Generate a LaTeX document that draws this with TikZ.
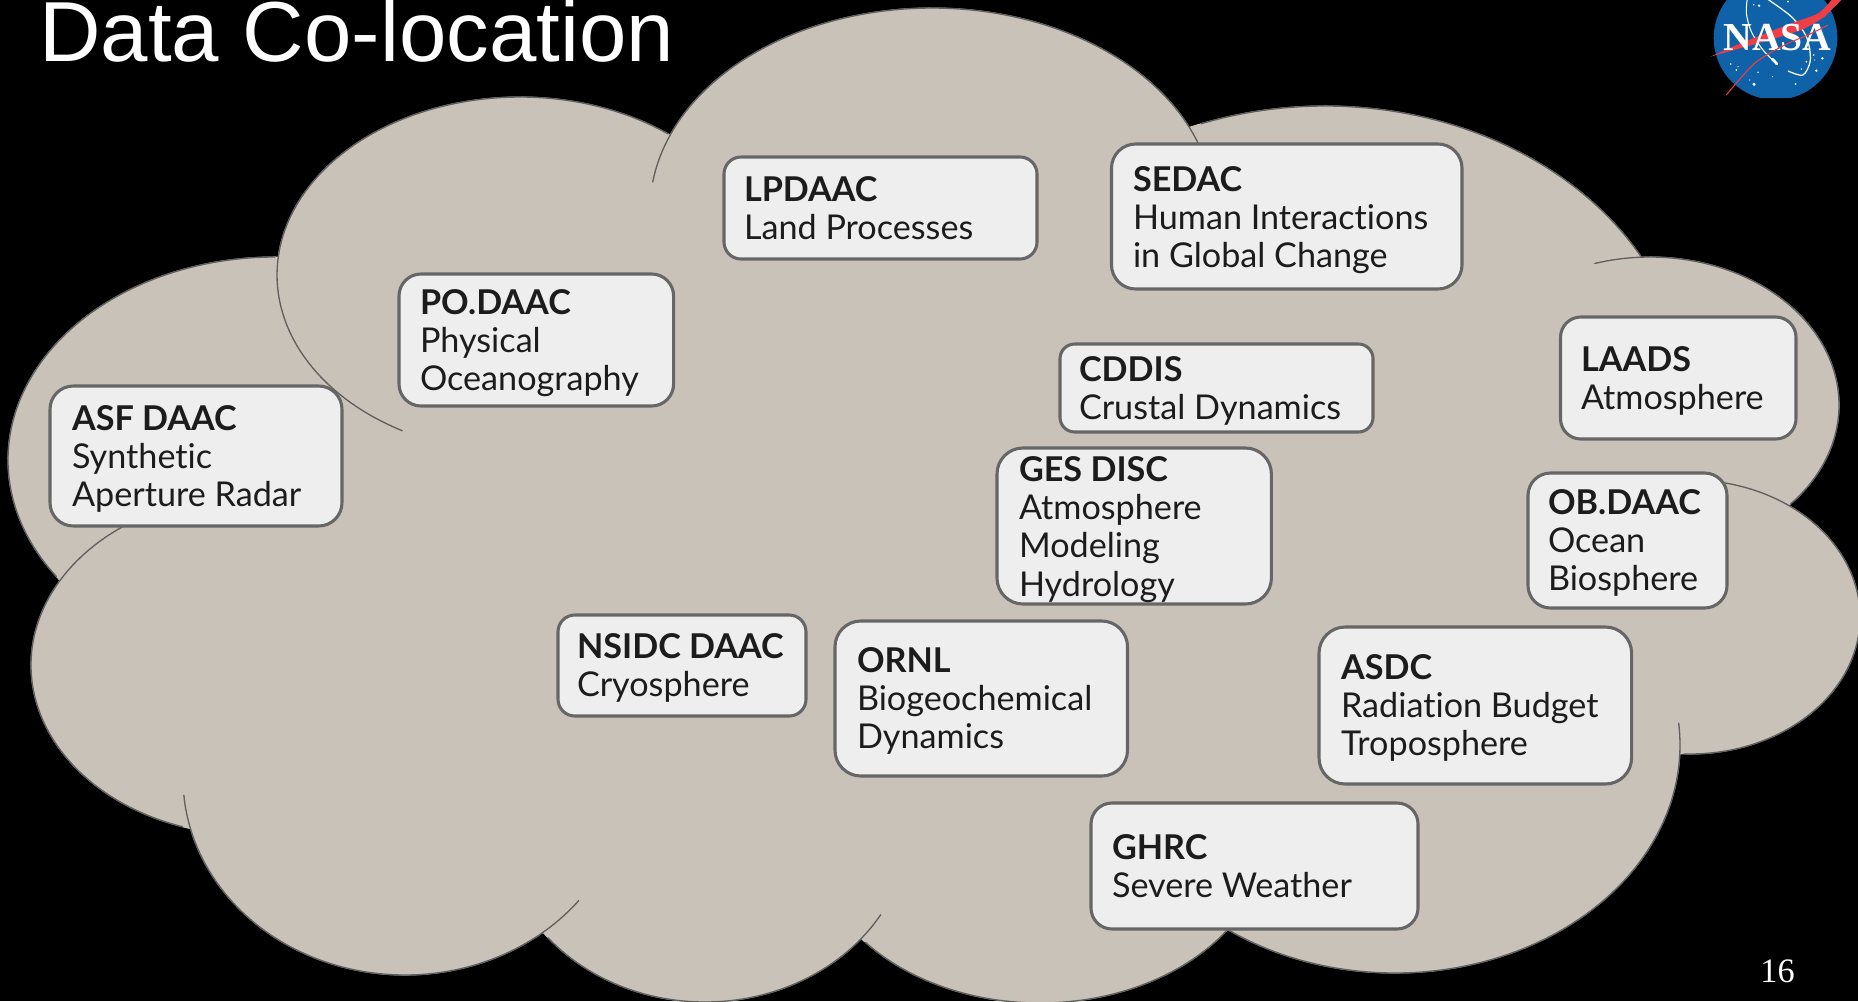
\documentclass[tikz,border=0pt]{standalone}
\usepackage{fontspec}
\setmainfont{Lato}[Ligatures=NoCommon]
\newfontfamily\titlefont{Liberation Sans}
\newfontfamily\timesfont{Liberation Serif}
\definecolor{cloudfill}{HTML}{C9C2B8}
\definecolor{cloudline}{HTML}{5F5F5F}
\definecolor{boxfill}{HTML}{EEEEEE}
\definecolor{boxline}{HTML}{666666}
\definecolor{inktext}{HTML}{1C1C1C}
\definecolor{nasablue}{HTML}{0F62A8}
\definecolor{nasared}{HTML}{EF3E46}
\tikzset{
  x=0.02cm,y=-0.02cm,
  cloudstroke/.style={draw=cloudline,line width=0.75pt,line cap=round,line join=round},
  cloudbody/.style={fill=cloudfill,draw=cloudfill,line width=0.6pt},
  daacbox/.style={draw=boxline,fill=boxfill,line width=1.75pt,inner sep=0pt,outer sep=0pt},
  daactext/.style={anchor=base west,inner sep=0pt,outer sep=0pt,text=inktext,font=\fontsize{19.45pt}{21.8pt}\selectfont},
}
% centre x, centre y, radius x, radius y, from angle, to angle (screen angles, y down)
\newcommand\fillarc[6]{\path[cloudbody] (#1,#2) -- plot[domain=#5-6:#6+6,samples=90] ({#1+#3*cos(\x)},{#2+#4*sin(\x)}) -- cycle;}
\newcommand\strokearc[6]{\draw[cloudstroke] plot[domain=#5:#6,samples=90] ({#1+#3*cos(\x)},{#2+#4*sin(\x)});}
\newcommand\allarcs{%
 \cloudarc{275}{460}{267}{203}{145}{270}%
 \cloudarc{520}{275}{243}{178}{119}{307.5}%
 \cloudarc{932}{210}{282}{202}{188}{345}%
 \cloudarc{1325}{400}{362}{294}{250}{331}%
 \cloudarc{1650}{405}{189}{148}{253}{402}%
 \cloudarc{1690}{617}{170}{137}{281}{452}%
 \cloudarc{1395}{745}{285}{228}{-5.5}{127}%
 \cloudarc{1040}{833}{228}{170}{28}{140}%
 \cloudarc{705}{822}{205}{180}{31}{140}%
 \cloudarc{405}{778}{222}{197}{38.5}{175}%
 \cloudarc{250}{665}{219}{170}{108}{236}%
}
% name, left, top, right, bottom, text x, first baseline, lines
\newcommand\daac[8]{%
 \pgfmathsetmacro\bxw{(#4-#2)*0.02}\pgfmathsetmacro\bxh{(#5-#3)*0.02}%
 \pgfmathsetmacro\bxr{min(#4-#2,#5-#3)*0.1667*0.02}%
 \node[daacbox,rounded corners=\bxr cm,minimum width=\bxw cm,minimum height=\bxh cm] (#1) at ({(#2+#4)/2},{(#3+#5)/2}) {};%
 \node[daactext] (#1-text) at (#6,{#7+1.2}) {\vtop{\lineskiplimit=-20pt #8}};%
}
\newcommand\txl[1]{\hbox{#1}}
\newcommand\hdl[1]{\hbox{\bfseries #1}}
\begin{document}
\begin{tikzpicture}
\useasboundingbox (0,0) rectangle (1858,1001);
\clip (0,0) rectangle (1858,1001);
\fill[black] (0,0) rectangle (1858,1001);
% cloud
\path[cloudbody] (65,580) -- (280,265) -- (670,145) -- (1195,135) -- (1635,265) -- (1770,495) -- (1675,745) -- (1225,920) -- (860,930) -- (545,925) -- (195,820) -- cycle;
\let\cloudarc\fillarc \allarcs
\let\cloudarc\strokearc \allarcs
% title
\node[anchor=base west,inner sep=0pt,text=white,font=\titlefont\fontsize{48.5pt}{50pt}\selectfont] (title) at (39,61) {Data Co-location};
% boxes
\daac{lpdaac}{724}{157}{1037}{259}{744}{200}{\hdl{LPDAAC}\txl{Land Processes}}
\daac{sedac}{1111.5}{144}{1462}{289}{1133}{190}{\hdl{SEDAC}\txl{Human Interactions}\txl{in Global Change}}
\daac{podaac}{399}{274}{673.6}{406}{420}{313}{\hdl{PO.DAAC}\txl{Physical}\txl{Oceanography}}
\daac{cddis}{1060}{344}{1373}{432}{1079}{380}{\hdl{CDDIS}\txl{Crustal Dynamics}}
\daac{laads}{1560.5}{317}{1796}{439}{1581}{370}{\hdl{LAADS}\txl{Atmosphere}}
\daac{asf}{50}{386}{342}{526}{72}{429}{\hdl{ASF DAAC}\txl{Synthetic}\txl{Aperture Radar}}
\daac{ges}{997}{448}{1271.4}{604}{1019}{480}{\hdl{GES DISC}\txl{Atmosphere}\txl{Modeling}\txl{Hydrology}}
\daac{obdaac}{1528}{473}{1727}{608}{1548}{513}{\hdl{OB.DAAC}\txl{Ocean}\txl{Biosphere}}
\daac{nsidc}{558}{615}{806}{716}{577}{657}{\hdl{NSIDC DAAC}\txl{Cryosphere}}
\daac{ornl}{835}{621}{1127.5}{776}{857}{671}{\hdl{ORNL}\txl{Biogeochemical}\txl{Dynamics}}
\daac{asdc}{1319}{627}{1631.6}{784}{1341}{678}{\hdl{ASDC}\txl{Radiation Budget}\txl{Troposphere}}
\daac{ghrc}{1091}{803}{1418}{929}{1112}{858}{\hdl{GHRC}\txl{Severe Weather}}
% page number
\node[anchor=base west,inner sep=0pt,text=white,font=\timesfont\fontsize{19.5pt}{20pt}\selectfont] (pagenum) at (1760,982) {16};
% NASA logo
\begin{scope}
\clip (1700,0) rectangle (1858,97);
\fill[nasablue] (1775.5,38) circle [radius=61.8];
\begin{scope}[shift={(1658,0)},x=0.00667cm,y=-0.00667cm]
 \foreach \sx/\sy/\sr in {303/17/4,287/14/2.5,390/5/3,493/175/4,475/212/4,288/253/5,235/210/3,218/192/2.5,300/217/2.5,343/230/2,413/252/3,445/185/3,430/207/2.5,467/165/2.5,275/240/2,240/200/2,470/180/2}
   \fill[white] (\sx,\sy) circle [radius=\sr];
 \draw[white,line width=0.6pt] plot[smooth] coordinates {(268,-5)(265,40)(280,95)(315,150)(355,190)};
 \draw[white,line width=1.5pt,line cap=round] (343,177) -- (357,192);
 \draw[white,line width=0.7pt] plot[smooth] coordinates {(325,-5)(400,50)(445,110)(457,180)(435,225)(390,213)};
 \fill[nasared] plot[smooth,tension=.5] coordinates {(157,170)(260,125)(400,70)(480,40)(525,-5)} -- (555,-5) -- plot[smooth,tension=.5] coordinates {(500,50)(430,90)(300,130)} -- cycle;
\end{scope}
\node[anchor=base,inner sep=0pt,text=white,font=\timesfont\bfseries\fontsize{22.6pt}{23pt}\selectfont] (nasa) at (1777.5,50) {NASA};
\begin{scope}[shift={(1658,0)},x=0.00667cm,y=-0.00667cm]
 \draw[nasared,line width=0.6pt] plot[smooth] coordinates {(205,285)(290,190)(380,135)(450,105)(510,75)};
\end{scope}
\end{scope}
\end{tikzpicture}
\end{document}
